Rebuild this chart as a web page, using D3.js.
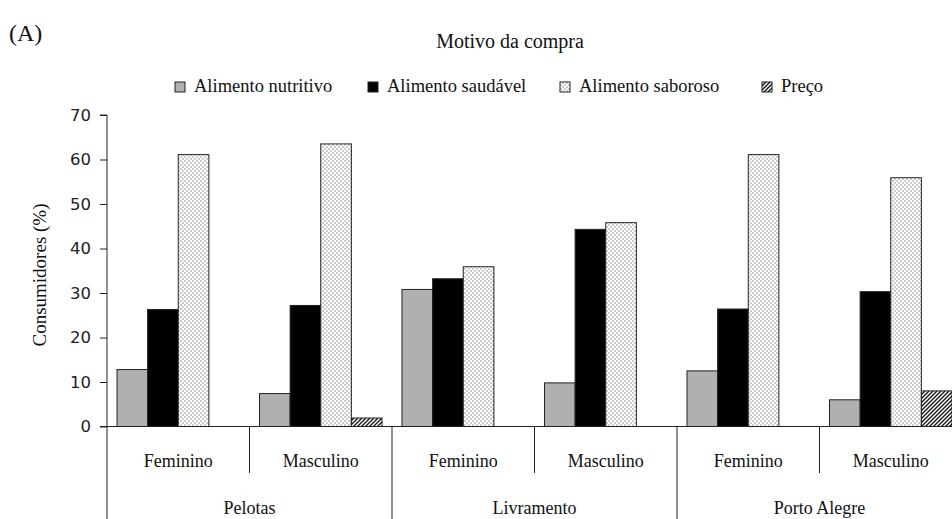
<!DOCTYPE html>
<html>
<head>
<meta charset="utf-8">
<script src="https://cdn.jsdelivr.net/npm/d3@7"></script>
<style>
  html, body { margin: 0; padding: 0; background: #fff; }
  svg { display: block; }
</style>
</head>
<body>
<svg id="chart" width="952" height="519"></svg>
<script>
// ---- data ----
const cities = ["Pelotas", "Livramento", "Porto Alegre"];
const sexes = ["Feminino", "Masculino"];
const seriesNames = ["Alimento nutritivo", "Alimento saudável", "Alimento saboroso", "Preço"];
const nutritivo = [12.8, 7.4, 30.8, 9.8, 12.5, 6.0];
const saudavel  = [26.3, 27.2, 33.2, 44.3, 26.4, 30.3];
const saboroso  = [61.1, 63.5, 35.9, 45.8, 61.1, 55.9];
const preco     = [0, 1.9, 0, 0, 0, 8.0];
const yTicks = [0, 10, 20, 30, 40, 50, 60, 70];

const SERIF = "'Liberation Serif', 'Times New Roman', 'DejaVu Serif', serif";
const SANS = "'DejaVu Sans', Verdana, sans-serif";

const seriesValues = [nutritivo, saudavel, saboroso, preco];
const groups = [];
cities.forEach(c => sexes.forEach(s => groups.push(c + "|" + s)));

const svg = d3.select("#chart");
const defs = svg.append("defs");

// patterns
const dots = defs.append("pattern").attr("id", "dots").attr("patternUnits", "userSpaceOnUse")
  .attr("width", 4).attr("height", 4);
dots.append("rect").attr("width", 4).attr("height", 4).attr("fill", "#fff");
dots.append("rect").attr("x", 0.5).attr("y", 0.5).attr("width", 1).attr("height", 1).attr("fill", "#333");
dots.append("rect").attr("x", 2.5).attr("y", 2.5).attr("width", 1).attr("height", 1).attr("fill", "#333");

const hatch = defs.append("pattern").attr("id", "hatch").attr("patternUnits", "userSpaceOnUse")
  .attr("width", 4).attr("height", 4);
hatch.append("rect").attr("width", 4).attr("height", 4).attr("fill", "#fff");
hatch.append("path").attr("d", "M-1,1 l2,-2 M0,4 l4,-4 M3,5 l2,-2")
  .attr("stroke", "#111").attr("stroke-width", 1.3);

const fills = ["#b0b0b0", "#000", "url(#dots)", "url(#hatch)"];

function txt(sel, size) {
  return sel.attr("font-size", size).attr("fill", "#111")
    .attr("font-family", SERIF).style("font-family", SERIF);
}

// scales
const x0 = d3.scaleBand().domain(groups).range([107, 962]).padding(0);
const x1 = d3.scaleBand().domain(seriesNames).range([10, x0.bandwidth() - 10]).padding(0);
const y = d3.scaleLinear().domain([0, 70]).range([426.5, 115]);

// bars
groups.forEach((g, gi) => {
  seriesNames.forEach((s, si) => {
    const v = seriesValues[si][gi];
    if (!v) return;
    svg.append("rect")
      .attr("x", x0(g) + x1(s))
      .attr("y", y(v))
      .attr("width", x1.bandwidth())
      .attr("height", y(0) - y(v))
      .attr("fill", fills[si])
      .attr("stroke", "#222")
      .attr("stroke-width", 1);
  });
});

// y axis
const yAxis = svg.append("g")
  .attr("transform", "translate(107,0)")
  .call(d3.axisLeft(y).tickValues(yTicks).tickSize(7).tickPadding(9).tickFormat(d3.format("d")));
yAxis.select(".domain").attr("stroke", "#222").attr("d", `M-7,${y(70)}H0V${y(0)}`);
yAxis.selectAll(".tick line").attr("stroke", "#222");
yAxis.selectAll("text").attr("font-size", 16.5).attr("fill", "#222")
  .attr("font-family", SANS).style("font-family", SANS);

// x baseline
svg.append("line").attr("x1", 100).attr("x2", 962).attr("y1", y(0)).attr("y2", y(0))
  .attr("stroke", "#222").attr("stroke-width", 1);

// category separators & labels
cities.forEach((c, ci) => {
  const gF = c + "|" + sexes[0];
  const gM = c + "|" + sexes[1];
  const left = x0(gF);
  const mid = x0(gM);
  const right = x0(gM) + x0.bandwidth();
  svg.append("line").attr("x1", left).attr("x2", left).attr("y1", y(0)).attr("y2", 519)
    .attr("stroke", "#222");
  svg.append("line").attr("x1", mid).attr("x2", mid).attr("y1", y(0)).attr("y2", 473)
    .attr("stroke", "#222");
  if (ci === cities.length - 1) {
    svg.append("line").attr("x1", right).attr("x2", right).attr("y1", y(0)).attr("y2", 519)
      .attr("stroke", "#222");
  }
  sexes.forEach(s => {
    const g = c + "|" + s;
    txt(svg.append("text"), 18).attr("x", x0(g) + x0.bandwidth() / 2).attr("y", 467)
      .attr("text-anchor", "middle").text(s);
  });
  txt(svg.append("text"), 18).attr("x", (left + right) / 2).attr("y", 514)
    .attr("text-anchor", "middle").text(c);
});

// y title
txt(svg.append("text"), 19).attr("transform", "translate(46,275) rotate(-90)")
  .attr("text-anchor", "middle").text("Consumidores (%)");

// panel label and title
txt(svg.append("text"), 24).attr("x", 9).attr("y", 41).text("(A)");
txt(svg.append("text"), 20).attr("x", 510).attr("y", 48).attr("text-anchor", "middle")
  .text("Motivo da compra");

// legend
const legendX = [175, 368, 560, 762];
seriesNames.forEach((s, i) => {
  svg.append("rect").attr("x", legendX[i]).attr("y", 82).attr("width", 10).attr("height", 10)
    .attr("fill", fills[i]).attr("stroke", "#222").attr("stroke-width", 1);
  txt(svg.append("text"), 18.5).attr("x", legendX[i] + 19).attr("y", 92).text(s);
});
</script>
</body>
</html>
